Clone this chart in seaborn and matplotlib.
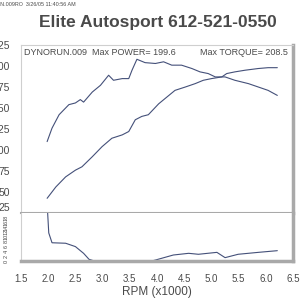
import matplotlib
matplotlib.use("Agg")
import matplotlib.pyplot as plt
import seaborn as sns

sns.set_theme(style="white")
plt.rcParams["font.family"] = ["Liberation Sans", "DejaVu Sans"]

LINE_COLOR = "#445079"
TEXT_COLOR = "#4a4a4a"
FRAME_LIGHT = "#cfcfcf"
FRAME_DARK = "#a9a9a9"

## DATA
torque_rpm = [1.98, 2.07, 2.20, 2.38, 2.50, 2.59, 2.65, 2.81, 2.96, 3.11, 3.20, 3.36, 3.48,
              3.54, 3.63, 3.78, 3.97, 4.12, 4.27, 4.45, 4.64, 4.79, 4.94, 5.07, 5.25, 5.43,
              5.68, 5.86, 6.04, 6.21]
torque = [110, 126, 142, 154, 156, 160, 157, 169, 177, 189, 183, 185, 185,
          195, 208, 204, 203, 205, 201, 201, 197, 193, 191, 187, 187, 183,
          179, 175, 171, 165]

power_rpm = [1.98, 2.14, 2.32, 2.50, 2.62, 2.81, 2.99, 3.17, 3.36, 3.48, 3.60, 3.72, 3.84,
             4.03, 4.18, 4.33, 4.52, 4.70, 4.85, 5.00, 5.19, 5.28, 5.43, 5.62, 5.86, 6.04, 6.21]
power = [42.5, 56, 68, 76, 80, 92, 104, 114, 118, 122, 136, 140, 142,
         155, 163, 171, 175, 179, 183, 185, 187, 191, 193, 195, 197, 198, 198]

aux_rpm = [1.98, 2.01, 2.07, 2.32, 2.50, 2.65, 2.75, 2.85, 3.90, 3.97, 4.30, 4.58, 4.76,
           5.10, 5.25, 5.49, 5.86, 6.21]
aux = [24, 11.7, 7.6, 7.4, 6.0, 3.2, 0.7, 0, 0, 0.4, 2.5, 3.2, 2.8,
       3.6, 1.4, 2.8, 3.6, 4.3]

main_ticks = [25, 50, 75, 100, 125, 150, 175, 200, 225]
aux_ticks = [0, 2, 4, 6, 8, 10, 12, 14, 16, 18]
x_ticks = [1.5, 2.0, 2.5, 3.0, 3.5, 4.0, 4.5, 5.0, 5.5, 6.0, 6.5]

title = "Elite Autosport 612-521-0550"
stamp = "DYNORUN.009RO  3/26/05 11:40:56 AM"
left_note = "DYNORUN.009  Max POWER= 199.6"
right_note = "Max TORQUE= 208.5"

## PLOT
fig = plt.figure(figsize=(3, 3), dpi=100)
ax = fig.add_axes([0.07, 0.29, 0.907, 0.56])
ax2 = fig.add_axes([0.07, 0.13, 0.907, 0.16], sharex=ax)

sns.lineplot(x=torque_rpm, y=torque, ax=ax, color=LINE_COLOR, lw=0.8)
sns.lineplot(x=power_rpm, y=power, ax=ax, color=LINE_COLOR, lw=0.8)
sns.lineplot(x=aux_rpm, y=aux, ax=ax2, color=LINE_COLOR, lw=0.8)

ax.set_xlim(1.5, 6.5)
ax.set_ylim(25, 225)
ax.set_yticks(main_ticks)
ax.set_yticklabels([str(t) for t in main_ticks])
ax.get_yticklabels()[0].set_va("bottom")
ax.tick_params(axis="y", length=0, pad=8, labelsize=7.5, labelcolor=TEXT_COLOR)
ax.tick_params(axis="x", length=0, labelbottom=False)

ax2.set_ylim(0, 20)
ax2.set_yticks(aux_ticks)
ax2.set_yticklabels([str(t) for t in aux_ticks], rotation=90, va="center")
ax2.tick_params(axis="y", length=0, pad=9, labelsize=4, labelcolor=TEXT_COLOR)
ax2.set_xticks(x_ticks)
ax2.set_xticklabels([f"{t:.1f}" for t in x_ticks])
ax2.tick_params(axis="x", length=0, pad=9, labelsize=7, labelcolor=TEXT_COLOR)
ax2.set_xlabel("RPM (x1000)", fontsize=8.5, color=TEXT_COLOR, labelpad=2)

for a in (ax, ax2):
    a.grid(False)
    a.spines["left"].set_color(FRAME_LIGHT)
    a.spines["left"].set_linewidth(0.8)
    a.spines["right"].set_color(FRAME_DARK)
    a.spines["right"].set_linewidth(2.5)
ax.spines["top"].set_color(FRAME_LIGHT)
ax.spines["top"].set_linewidth(0.8)
ax.spines["bottom"].set_color(FRAME_DARK)
ax.spines["bottom"].set_linewidth(1.5)
ax2.spines["top"].set_visible(False)
ax2.spines["bottom"].set_color(FRAME_DARK)
ax2.spines["bottom"].set_linewidth(2.5)

ax.text(0.01, 0.985, left_note, transform=ax.transAxes, ha="left", va="top",
        fontsize=6.5, color=TEXT_COLOR)
ax.text(0.982, 0.985, right_note, transform=ax.transAxes, ha="right", va="top",
        fontsize=6.5, color=TEXT_COLOR)

fig.text(0.525, 1 - 22 / 300, title, ha="center", va="center", fontsize=12.5,
         fontweight="bold", color=TEXT_COLOR)
fig.text(76 / 300, 1 - 5 / 300, stamp, ha="right", va="center", fontsize=3.9,
         color=TEXT_COLOR)

fig.savefig("out.png", dpi=100)
